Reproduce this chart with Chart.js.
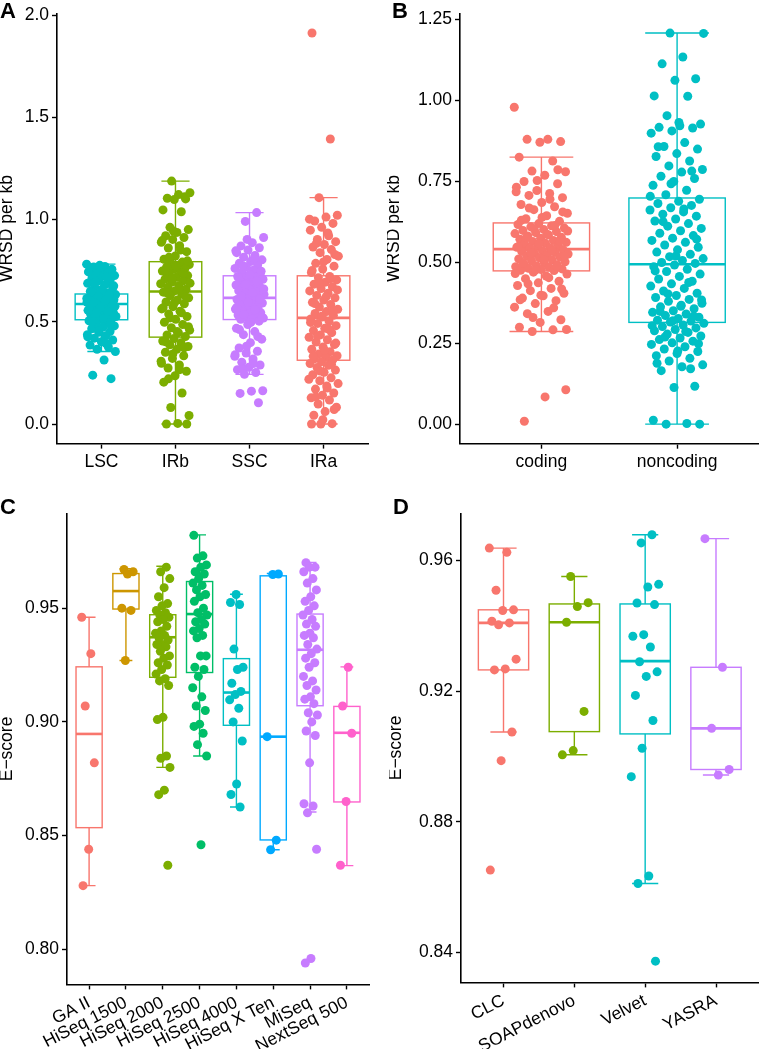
<!DOCTYPE html>
<html>
<head>
<meta charset="utf-8">
<script src="https://cdn.jsdelivr.net/npm/chart.js@4.4.1/dist/chart.umd.min.js"></script>
<style>
  body { margin: 0; background: #fff; width: 763px; height: 1049px; position: relative; overflow: hidden;
         font-family: "Liberation Sans", Arial, sans-serif; }
  .panel { position: absolute; }
  .tag { position: absolute; font-weight: bold; font-size: 22px; line-height: 1; z-index: 5; }
</style>
</head>
<body>
<div class="panel" style="left:0;top:0"><canvas id="chartA" width="375" height="490"></canvas></div>
<div class="panel" style="left:387px;top:0"><canvas id="chartB" width="376" height="490"></canvas></div>
<div class="panel" style="left:0;top:500px"><canvas id="chartC" width="375" height="549"></canvas></div>
<div class="panel" style="left:389px;top:500px"><canvas id="chartD" width="374" height="549"></canvas></div>
<div class="tag" style="left:0;top:0">A</div>
<div class="tag" style="left:392px;top:0">B</div>
<div class="tag" style="left:0;top:496px">C</div>
<div class="tag" style="left:393px;top:496px">D</div>
<script>
// ---- panel A : WRSD per kb by region ----
const regions = ['LSC', 'IRb', 'SSC', 'IRa'];
const lsc = [0.782,0.771,0.768,0.757,0.752,0.749,0.738,0.733,0.726,0.724,0.713,0.706,0.701,0.688,0.684,0.672,0.668,0.655,0.649,0.642,
  0.635,0.633,0.627,0.626,0.621,0.618,0.616,0.612,0.609,0.608,0.604,0.601,0.599,0.597,0.595,0.593,0.592,0.590,0.589,0.588,
  0.584,0.582,0.576,0.574,0.568,0.566,0.561,0.556,0.554,0.548,0.546,0.540,0.537,0.532,0.528,0.526,0.520,0.517,0.514,0.511,
  0.505,0.497,0.491,0.480,0.474,0.466,0.452,0.449,0.437,0.432,0.420,0.411,0.402,0.386,0.377,0.366,0.355,0.313,0.239,0.222,
  0.776,0.744,0.719,0.694,0.676,0.661,0.645,0.631,0.623,0.614,0.603,0.594,0.579,0.571,0.563,0.551,0.543,0.529,0.516,0.502,0.485,0.458,0.426,0.394];
const irb = [1.188,1.131,1.122,1.104,1.101,1.098,1.047,1.038,0.962,0.951,0.937,0.921,0.912,0.903,0.889,0.872,0.861,0.843,0.822,0.806,
  0.792,0.787,0.780,0.776,0.768,0.761,0.757,0.748,0.741,0.733,0.726,0.718,0.709,0.701,0.694,0.686,0.677,0.669,0.659,0.651,
  0.645,0.636,0.628,0.617,0.606,0.597,0.588,0.574,0.563,0.551,0.538,0.526,0.512,0.498,0.487,0.471,0.459,0.447,0.436,0.428,
  0.418,0.406,0.397,0.388,0.379,0.366,0.351,0.334,0.321,0.307,0.289,0.274,0.258,0.236,0.205,0.152,0.081,0.042,0.003,0.0,
  1.112,0.944,0.897,0.851,0.816,0.798,0.772,0.752,0.737,0.713,0.689,0.664,0.641,0.622,0.593,0.569,0.544,0.519,0.476,0.452,0.402,0.373,0.343,0.297,0.266,0.221,0.0];
const ssc = [1.034,0.991,0.912,0.887,0.871,0.862,0.851,0.838,0.824,0.816,0.803,0.795,0.786,0.778,0.769,0.761,0.752,0.743,0.736,0.729,
  0.722,0.718,0.713,0.708,0.702,0.697,0.692,0.686,0.680,0.675,0.669,0.664,0.658,0.652,0.646,0.640,0.634,0.628,0.623,0.619,
  0.614,0.609,0.603,0.598,0.592,0.586,0.580,0.574,0.568,0.562,0.556,0.550,0.545,0.539,0.533,0.528,0.523,0.518,0.515,0.512,
  0.503,0.487,0.468,0.452,0.437,0.415,0.398,0.372,0.356,0.347,0.331,0.318,0.302,0.289,0.278,0.266,0.252,0.243,0.163,0.161,0.150,0.104,
  0.903,0.847,0.809,0.774,0.747,0.731,0.716,0.699,0.683,0.661,0.643,0.626,0.611,0.595,0.571,0.559,0.536,0.521,0.497,0.462,0.428,0.381,0.339,0.296,0.271];
const ira = [1.912,1.394,1.107,1.021,1.012,0.993,0.981,0.962,0.948,0.921,0.903,0.892,0.878,0.866,0.853,0.838,0.821,0.805,0.786,0.772,0.758,0.741,
  0.722,0.716,0.705,0.694,0.684,0.672,0.663,0.651,0.640,0.629,0.617,0.606,0.595,0.585,0.572,0.561,0.550,0.541,0.532,0.523,
  0.514,0.503,0.492,0.481,0.468,0.457,0.447,0.436,0.424,0.412,0.401,0.389,0.377,0.366,0.354,0.343,0.334,0.326,0.319,0.314,
  0.305,0.296,0.287,0.276,0.264,0.253,0.241,0.226,0.212,0.198,0.186,0.171,0.152,0.141,0.128,0.117,0.098,0.082,0.061,0.043,0.002,0.0,
  1.002,0.934,0.884,0.829,0.793,0.751,0.711,0.689,0.656,0.623,0.589,0.556,0.527,0.497,0.463,0.431,0.396,0.361,0.331,0.292,0.259,0.219,0.176,0.133,0.071,0.021,0.0];
const aLow  = [0.355, 0.0,   0.243, 0.0];
const aQ1   = [0.510, 0.425, 0.511, 0.312];
const aMed  = [0.587, 0.648, 0.617, 0.519];
const aQ3   = [0.636, 0.794, 0.725, 0.725];
const aHigh = [0.782, 1.188, 1.034, 1.107];
const aTicks = [0, 0.5, 1.0, 1.5, 2.0];

// ---- panel B : coding vs noncoding ----
const parts = ['coding', 'noncoding'];
const coding = [0.978,0.879,0.879,0.872,0.870,0.824,0.812,0.781,0.779,0.768,0.749,0.742,0.721,0.717,0.712,0.706,0.699,0.684,0.678,0.671,0.662,0.651,0.643,0.634,0.626,
  0.619,0.616,0.612,0.609,0.605,0.601,0.598,0.594,0.591,0.588,0.584,0.581,0.577,0.574,0.571,0.567,0.564,0.561,0.558,0.555,0.552,0.549,0.546,0.544,0.542,
  0.538,0.535,0.533,0.530,0.527,0.525,0.522,0.519,0.516,0.513,0.510,0.507,0.504,0.501,0.498,0.495,0.492,0.489,0.486,0.484,0.481,0.479,0.477,0.475,0.474,
  0.469,0.463,0.457,0.449,0.441,0.436,0.428,0.419,0.412,0.404,0.396,0.389,0.381,0.372,0.361,0.348,0.341,0.322,0.314,0.299,0.291,0.286,0.106,0.084,0.009,
  0.785,0.752,0.731,0.694,0.667,0.655,0.638,0.629,0.613,0.603,0.596,0.586,0.575,0.566,0.557,0.548,0.536,0.528,0.518,0.508,0.497,0.487,0.476,0.465,0.452,0.433,0.417,0.398,0.384,0.359,0.329,0.292];
const noncoding = [1.207,1.206,1.133,1.112,1.066,1.061,1.013,1.012,0.952,0.926,0.921,0.916,0.914,0.905,0.898,0.869,0.857,0.849,0.835,0.826,0.812,0.797,0.786,0.778,0.765,0.758,0.749,0.737,0.722,0.708,
  0.694,0.688,0.681,0.675,0.668,0.661,0.655,0.648,0.642,0.633,0.627,0.619,0.611,0.604,0.597,0.589,0.582,0.574,0.567,0.561,0.553,0.546,0.538,0.531,0.524,0.517,0.511,0.505,0.499,0.496,
  0.491,0.486,0.478,0.471,0.463,0.456,0.448,0.441,0.433,0.426,0.419,0.411,0.404,0.397,0.391,0.385,0.379,0.373,0.367,0.362,0.356,0.350,0.345,0.340,0.335,0.330,0.326,0.321,0.318,0.315,
  0.311,0.306,0.301,0.297,0.292,0.288,0.283,0.278,0.272,0.266,0.261,0.256,0.251,0.246,0.239,0.232,0.224,0.218,0.211,0.203,0.195,0.183,0.177,0.165,0.117,0.113,0.012,0.002,0.0,0.0,
  0.931,0.856,0.781,0.742,0.703,0.664,0.625,0.571,0.519,0.473,0.437,0.402,0.383,0.364,0.348,0.333,0.319,0.304,0.286,0.269,0.248,0.226,0.188,0.171];
const bLow  = [0.286, 0.0];
const bQ1   = [0.473, 0.314];
const bMed  = [0.540, 0.4935];
const bQ3   = [0.621, 0.698];
const bHigh = [0.824, 1.207];
const bTicks = [0, 0.25, 0.5, 0.75, 1.0, 1.25];

// ---- panel C : E-score by sequencing platform ----
const platforms = ['GA II', 'HiSeq 1500', 'HiSeq 2000', 'HiSeq 2500', 'HiSeq 4000', 'HiSeq X Ten', 'MiSeq', 'NextSeq 500'];
const gaII = [0.946, 0.930, 0.907, 0.882, 0.844, 0.828];
const hiseq1500 = [0.967, 0.966, 0.965, 0.950, 0.949, 0.927];
const hiseq2000 = [0.968,0.966,0.963,0.959,0.955,0.952,0.951,0.949,0.948,0.947,0.946,0.945,0.944,0.942,0.940,0.939,0.938,0.937,0.936,0.934,
  0.934,0.933,0.931,0.929,0.928,0.926,0.925,0.923,0.921,0.919,0.918,0.916,0.902,0.901,0.885,0.884,0.880,0.870,0.868,0.837];
const hiseq2500 = [0.982,0.973,0.972,0.969,0.968,0.966,0.965,0.963,0.961,0.960,0.958,0.956,0.955,0.953,0.950,0.948,0.947,0.945,0.944,0.943,
  0.941,0.940,0.938,0.937,0.929,0.929,0.924,0.923,0.920,0.915,0.911,0.907,0.905,0.899,0.898,0.895,0.890,0.885,0.846];
const hiseq4000 = [0.956, 0.9525, 0.9516, 0.932, 0.924, 0.923, 0.917, 0.9134, 0.912, 0.9097, 0.906, 0.900, 0.8916, 0.8727, 0.8681, 0.8626];
const hiseqXTen = [0.965, 0.9648, 0.8935, 0.848, 0.8438];
const miseq = [0.970,0.968,0.968,0.966,0.963,0.961,0.958,0.955,0.953,0.951,0.949,0.947,0.945,0.943,0.942,0.939,0.938,0.937,0.934,0.932,
  0.930,0.928,0.926,0.924,0.920,0.918,0.916,0.914,0.911,0.910,0.908,0.904,0.903,0.900,0.896,0.894,0.882,0.864,0.863,0.860,0.844,0.796,0.794];
const nextseq500 = [0.924, 0.907, 0.895, 0.865, 0.837];
const cLow  = [0.828,  0.927,  0.880,  0.885,  0.8626, 0.8438, 0.8604, 0.8368];
const cQ1   = [0.8535, 0.9496, 0.9196, 0.9217, 0.8985, 0.8481, 0.9071, 0.8648];
const cMed  = [0.8947, 0.9575, 0.9372, 0.9474, 0.9129, 0.8935, 0.9317, 0.8952];
const cQ3   = [0.9242, 0.9652, 0.9471, 0.9617, 0.9278, 0.9642, 0.9474, 0.9068];
const cHigh = [0.946,  0.9673, 0.9684, 0.9822, 0.9561, 0.9652, 0.9701, 0.9242];
const cTicks = [0.80, 0.85, 0.90, 0.95];

// ---- panel D : E-score by assembler ----
const assemblers = ['CLC', 'SOAPdenovo', 'Velvet', 'YASRA'];
const clc = [0.9638, 0.9625, 0.9509, 0.9449, 0.9447, 0.9414, 0.9409, 0.9403, 0.9298, 0.9268, 0.9265, 0.9075, 0.8987, 0.8652];
const soapdenovo = [0.9551, 0.9471, 0.9459, 0.9411, 0.9138, 0.9018, 0.9005];
const velvet = [0.9679, 0.9654, 0.9527, 0.9519, 0.947, 0.9465, 0.9373, 0.9368, 0.9335, 0.929, 0.9259, 0.9245, 0.9187, 0.911, 0.9025, 0.8938, 0.8634, 0.8611, 0.8373];
const yasra = [0.9667, 0.9273, 0.9086, 0.896, 0.8943];
const dLow  = [0.9075, 0.9005, 0.8611, 0.8943];
const dQ1   = [0.9265, 0.9076, 0.9069, 0.896];
const dMed  = [0.9409, 0.9411, 0.9292, 0.9086];
const dQ3   = [0.9449, 0.9467, 0.9467, 0.9273];
const dHigh = [0.9638, 0.9551, 0.9679, 0.9667];
const dTicks = [0.84, 0.88, 0.92, 0.96];

// ggplot hue palettes
const hue4 = ['#00BFC4', '#7CAE00', '#C77CFF', '#F8766D'];
const hue2 = ['#F8766D', '#00BFC4'];
const hue8 = ['#F8766D', '#CD9600', '#7CAE00', '#00BE67', '#00BFC4', '#00A9FF', '#C77CFF', '#FF61CC'];
const hueD = ['#F8766D', '#7CAE00', '#00BFC4', '#C77CFF'];

Chart.defaults.font.family = "'Liberation Sans', Arial, Helvetica, sans-serif";
Chart.defaults.font.size = 17.5;
Chart.defaults.color = '#000';

// fixed jitter (display only), spread of +-0.2 category units like geom_jitter(width = 0.2)
function jitter(i, j) {
  const f = j * 0.6180339887 + i * 0.37;
  return i + ((f - Math.floor(f)) - 0.5) * 0.4;
}

// draws errorbar + box + median from the stats arrays, through the chart scales
const boxPlugin = {
  id: 'boxes',
  beforeDatasetsDraw(chart, args, o) {
    const { ctx, scales: { x, y } } = chart;
    ctx.save();
    for (let i = 0; i < o.med.length; i++) {
      const c = o.colors[i];
      const cx = x.getPixelForValue(i);
      const cl = x.getPixelForValue(i - o.capW / 2), cr = x.getPixelForValue(i + o.capW / 2);
      const bl = x.getPixelForValue(i - o.boxW / 2), br = x.getPixelForValue(i + o.boxW / 2);
      const yLow = y.getPixelForValue(o.low[i]), yHigh = y.getPixelForValue(o.high[i]);
      const yQ1 = y.getPixelForValue(o.q1[i]), yQ3 = y.getPixelForValue(o.q3[i]);
      const yMed = y.getPixelForValue(o.med[i]);
      ctx.strokeStyle = c;
      ctx.lineWidth = 1.4;
      ctx.beginPath();
      ctx.moveTo(cx, yLow); ctx.lineTo(cx, yHigh);
      ctx.moveTo(cl, yLow); ctx.lineTo(cr, yLow);
      ctx.moveTo(cl, yHigh); ctx.lineTo(cr, yHigh);
      ctx.stroke();
      ctx.fillStyle = '#fff';
      ctx.fillRect(bl, yQ3, br - bl, yQ1 - yQ3);
      ctx.strokeRect(bl, yQ3, br - bl, yQ1 - yQ3);
      ctx.lineWidth = 2.6;
      ctx.beginPath();
      ctx.moveTo(bl, yMed); ctx.lineTo(br, yMed);
      ctx.stroke();
    }
    ctx.restore();
  }
};

function makePanel(id, p) {
  const canvas = document.getElementById(id);
  const W = canvas.width, H = canvas.height;
  const datasets = p.groups.map((vals, i) => ({
    data: vals.map((v, j) => ({ x: jitter(i, j), y: v })),
    backgroundColor: p.colors[i],
    borderWidth: 0,
    pointRadius: 4.5,
    pointHoverRadius: 4.5
  }));
  return new Chart(canvas, {
    type: 'scatter',
    data: { datasets },
    plugins: [boxPlugin],
    options: {
      responsive: false,
      animation: false,
      layout: { padding: { left: 0, top: p.area.top, right: W - p.area.right, bottom: 0 } },
      plugins: {
        legend: { display: false },
        tooltip: { enabled: false },
        boxes: { low: p.low, q1: p.q1, med: p.med, q3: p.q3, high: p.high, colors: p.colors, boxW: 0.71, capW: p.capW }
      },
      scales: {
        x: {
          type: 'linear',
          min: -0.6,
          max: p.cats.length - 0.4,
          afterBuildTicks: s => { s.ticks = p.cats.map((c, i) => ({ value: i })); },
          afterFit: s => { s.height = H - p.area.bottom; },
          ticks: {
            callback: v => p.cats[v],
            padding: 3,
            minRotation: p.rotation,
            maxRotation: p.rotation,
            autoSkip: false
          },
          grid: { drawOnChartArea: false, tickLength: 5, color: '#000', tickWidth: 1.4 },
          border: { display: true, color: '#000', width: 1.6 }
        },
        y: {
          min: p.yMin,
          max: p.yMax,
          afterBuildTicks: s => { s.ticks = p.yTicks.map(v => ({ value: v })); },
          afterFit: s => { s.width = p.area.left; },
          ticks: { callback: v => v.toFixed(p.digits), padding: 3 },
          grid: { drawOnChartArea: false, tickLength: 5, color: '#000', tickWidth: 1.4 },
          border: { display: true, color: '#000', width: 1.6 },
          title: { display: true, text: p.yTitle, padding: 0, font: { size: 17.5, lineHeight: 0.85 } }
        }
      }
    }
  });
}

makePanel('chartA', {
  cats: regions, groups: [lsc, irb, ssc, ira], colors: hue4,
  low: aLow, q1: aQ1, med: aMed, q3: aQ3, high: aHigh, capW: 0.38,
  yMin: -0.0956, yMax: 2.0076, yTicks: aTicks, digits: 1, yTitle: 'WRSD per kb',
  area: { left: 57, top: 11.4, right: 368, bottom: 443.6 }, rotation: 0
});
makePanel('chartB', {
  cats: parts, groups: [coding, noncoding], colors: hue2,
  low: bLow, q1: bQ1, med: bMed, q3: bQ3, high: bHigh, capW: 0.47,
  yMin: -0.0604, yMax: 1.2674, yTicks: bTicks, digits: 2, yTitle: 'WRSD per kb',
  area: { left: 73, top: 11.3, right: 375, bottom: 443.7 }, rotation: 0
});
makePanel('chartC', {
  cats: platforms, groups: [gaII, hiseq1500, hiseq2000, hiseq2500, hiseq4000, hiseqXTen, miseq, nextseq500], colors: hue8,
  low: cLow, q1: cQ1, med: cMed, q3: cQ3, high: cHigh, capW: 0.35,
  yMin: 0.7846, yMax: 0.9916, yTicks: cTicks, digits: 2, yTitle: 'E\u2212score',
  area: { left: 67, top: 8.3, right: 369, bottom: 484.4 }, rotation: 27
});
makePanel('chartD', {
  cats: assemblers, groups: [clc, soapdenovo, velvet, yasra], colors: hueD,
  low: dLow, q1: dQ1, med: dMed, q3: dQ3, high: dHigh, capW: 0.37,
  yMin: 0.8308, yMax: 0.9744, yTicks: dTicks, digits: 2, yTitle: 'E\u2212score',
  area: { left: 72, top: 8.5, right: 373, bottom: 482.4 }, rotation: 27
});
</script>
</body>
</html>
